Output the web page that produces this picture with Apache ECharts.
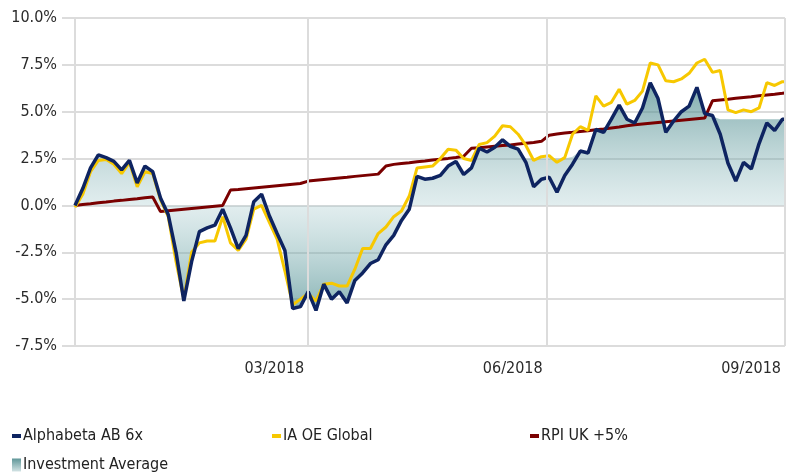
<!DOCTYPE html>
<html>
<head>
<meta charset="utf-8">
<script src="https://cdn.jsdelivr.net/npm/echarts@6/dist/echarts.min.js"></script>
<style>
  html, body { margin: 0; padding: 0; background: #fff; }
  #chart { width: 796px; height: 476px; }
</style>
</head>
<body>
<div id="chart"></div>
<script>
const FONT = '"DejaVu Sans Condensed", "Liberation Sans Narrow", sans-serif';

const dates = [
  '2017-12-01','2017-12-04','2017-12-07','2017-12-10','2017-12-13','2017-12-16','2017-12-19','2017-12-22','2017-12-25','2017-12-28','2017-12-31',
  '2018-01-03','2018-01-06','2018-01-09','2018-01-12','2018-01-15','2018-01-18','2018-01-21','2018-01-24','2018-01-27','2018-01-30',
  '2018-02-02','2018-02-05','2018-02-08','2018-02-11','2018-02-14','2018-02-17','2018-02-20','2018-02-23','2018-02-26',
  '2018-03-01','2018-03-04','2018-03-07','2018-03-10','2018-03-13','2018-03-16','2018-03-19','2018-03-22','2018-03-25','2018-03-28','2018-03-31',
  '2018-04-03','2018-04-06','2018-04-09','2018-04-12','2018-04-15','2018-04-18','2018-04-21','2018-04-24','2018-04-27','2018-04-30',
  '2018-05-03','2018-05-06','2018-05-09','2018-05-12','2018-05-15','2018-05-18','2018-05-21','2018-05-24','2018-05-27','2018-05-30',
  '2018-06-02','2018-06-05','2018-06-08','2018-06-11','2018-06-14','2018-06-17','2018-06-20','2018-06-23','2018-06-26','2018-06-29',
  '2018-07-02','2018-07-05','2018-07-08','2018-07-11','2018-07-14','2018-07-17','2018-07-20','2018-07-23','2018-07-26','2018-07-29',
  '2018-08-01','2018-08-04','2018-08-07','2018-08-10','2018-08-13','2018-08-16','2018-08-19','2018-08-22','2018-08-25','2018-08-28','2018-08-31',
  '2018-09-01'
];

// Alphabeta AB 6x (%)
const alphabeta = [
  0.0, 0.9, 2.0, 2.7, 2.55, 2.35, 1.9, 2.4, 1.2, 2.1,
  1.8, 0.4, -0.5, -2.5, -5.1, -3.0, -1.4, -1.2, -1.05, -0.2,
  -1.2, -2.3, -1.6, 0.2, 0.6, -0.55, -1.5, -2.4, -5.5, -5.4,
  -4.6, -5.6, -4.2, -5.0, -4.6, -5.2, -4.0, -3.6, -3.1, -2.9,
  -2.1, -1.6, -0.8, -0.2, 1.55, 1.4, 1.45, 1.6, 2.1, 2.35,
  1.65, 2.0, 3.05, 2.85, 3.1, 3.5, 3.15, 3.0, 2.3, 1.0,
  1.4, 1.5, 0.7, 1.6, 2.2, 2.9, 2.8, 4.05, 3.9, 4.6,
  5.35, 4.6, 4.4, 5.2, 6.55, 5.7, 3.9, 4.5, 5.0, 5.3,
  6.3, 4.9, 4.8, 3.8, 2.25, 1.3, 2.3, 1.95, 3.3, 4.4,
  4.0, 4.6, 4.6
];

// IA OE Global (%)
const iaGlobal = [
  -0.1, 0.6, 1.8, 2.4, 2.45, 2.2, 1.7, 2.3, 1.0, 1.8,
  1.7, 0.3, -0.6, -3.0, -5.0, -2.5, -2.0, -1.9, -1.9, -0.6,
  -2.0, -2.4, -1.8, -0.2, 0.0, -0.9, -1.8, -3.5, -5.3, -5.0,
  -4.7, -5.1, -4.2, -4.15, -4.3, -4.3, -3.4, -2.3, -2.3, -1.5,
  -1.15, -0.6, -0.3, 0.5, 2.0, 2.05, 2.1, 2.5, 3.0, 2.95,
  2.5, 2.4, 3.25, 3.35, 3.7, 4.25, 4.2, 3.8, 3.2, 2.4,
  2.6, 2.65, 2.3, 2.55, 3.8, 4.2, 4.0, 5.85, 5.3, 5.5,
  6.2, 5.4, 5.6, 6.1, 7.6, 7.5, 6.65, 6.6, 6.75, 7.05,
  7.6, 7.8, 7.1, 7.2, 5.1, 4.95, 5.1, 5.0, 5.2, 6.55,
  6.4, 6.6, 6.6
];

// RPI UK +5% (%)
const rpi = [
  0.0, 0.05, 0.09, 0.14, 0.18, 0.23, 0.27, 0.32, 0.36, 0.41,
  0.45, -0.32, -0.28, -0.24, -0.2, -0.16, -0.12, -0.08, -0.04, 0.0,
  0.82, 0.85, 0.89, 0.93, 0.97, 1.01, 1.05, 1.09, 1.13, 1.17,
  1.3, 1.34, 1.38, 1.42, 1.46, 1.5, 1.55, 1.59, 1.63, 1.67,
  2.1, 2.19, 2.24, 2.28, 2.33, 2.37, 2.42, 2.47, 2.51, 2.56,
  2.62, 3.05, 3.08, 3.12, 3.16, 3.2, 3.23, 3.28, 3.32, 3.36,
  3.42, 3.75, 3.81, 3.86, 3.9, 3.95, 3.99, 4.04, 4.08, 4.13,
  4.18, 4.25, 4.3, 4.34, 4.38, 4.42, 4.46, 4.5, 4.54, 4.58,
  4.62, 4.66, 5.58, 5.63, 5.67, 5.72, 5.76, 5.8, 5.85, 5.89,
  5.93, 5.98, 6.0
];

// Investment Average (%)
const invAverage = [
  0.0, 0.9, 2.0, 2.7, 2.55, 2.35, 1.9, 2.4, 1.2, 2.1,
  1.8, 0.4, -0.5, -2.5, -5.1, -3.0, -1.4, -1.2, -1.05, -0.2,
  -1.2, -2.3, -1.6, 0.2, 0.6, -0.55, -1.5, -2.4, -5.5, -5.4,
  -4.6, -5.6, -4.2, -5.0, -4.6, -5.2, -4.0, -3.6, -3.1, -2.9,
  -2.1, -1.6, -0.8, -0.2, 1.55, 1.4, 1.45, 1.6, 2.1, 2.35,
  1.65, 2.0, 3.05, 2.85, 3.1, 3.5, 3.15, 3.0, 2.5, 2.5,
  2.5, 2.5, 2.5, 2.5, 2.6, 2.9, 2.8, 4.05, 3.9, 4.6,
  5.35, 4.6, 4.4, 5.2, 6.55, 5.7, 3.9, 4.5, 5.0, 5.3,
  6.3, 4.9, 4.75, 4.6, 4.6, 4.6, 4.6, 4.6, 4.6, 4.6,
  4.6, 4.6, 4.6
];

const startDate = '2017-12-01';
const endDate = '2018-09-01';
const xTickDates = ['2018-03-01', '2018-06-01', '2018-09-01'];
const xTickLabels = ['03/2018', '06/2018', '09/2018'];

const DAY = 86400000;
const dayOf = d => Math.round((Date.parse(d) - Date.parse(startDate)) / DAY);
const tickDays = xTickDates.map(dayOf);
const pairs = arr => dates.map((d, i) => [dayOf(d), arr[i]]);

// area gradient: darkest away from zero, light at zero
const aMax = Math.max(0, ...invAverage), aMin = Math.min(0, ...invAverage);
const zeroOff = aMax / (aMax - aMin);

const gridColor = '#dcdcdc';
const chart = echarts.init(document.getElementById('chart'));

chart.setOption({
  animation: false,
  backgroundColor: '#fff',
  textStyle: { fontFamily: FONT },
  grid: { left: 75, right: 11, top: 18, bottom: 130 },
  xAxis: {
    type: 'value',
    min: 0,
    max: dayOf(endDate),
    axisLine: { show: false },
    splitLine: { show: false },
    axisTick: {
      show: true,
      customValues: tickDays,
      length: 28,
      lineStyle: { color: gridColor, width: 2 }
    },
    axisLabel: {
      customValues: tickDays,
      formatter: v => xTickLabels[tickDays.indexOf(v)] || '',
      align: 'right',
      margin: 15,
      padding: [0, 4, 0, 0],
      fontSize: 16,
      color: '#2a2a2a',
      fontFamily: FONT
    }
  },
  yAxis: {
    type: 'value',
    min: -7.5,
    max: 10,
    interval: 2.5,
    axisLine: { show: true, lineStyle: { color: gridColor, width: 2 } },
    axisTick: { show: true, length: 13, lineStyle: { color: gridColor, width: 2 } },
    splitLine: { show: true, lineStyle: { color: gridColor, width: 2 } },
    axisLabel: {
      formatter: v => v.toFixed(1) + '%',
      margin: 18,
      fontSize: 16,
      color: '#2a2a2a',
      fontFamily: FONT
    }
  },
  legend: [
    { left: 12, top: 428, data: ['Alphabeta AB 6x'] },
    { left: 272, top: 428, data: ['IA OE Global'] },
    { left: 530, top: 428, data: ['RPI UK +5%'] },
    { left: 12, top: 457, data: [{
        name: 'Investment Average',
        itemStyle: {
          color: new echarts.graphic.LinearGradient(0, 0, 0, 1, [
            { offset: 0, color: '#5f9698' },
            { offset: 1, color: '#d3e3e4' }
          ])
        }
      }],
      itemWidth: 9, itemHeight: 13
    }
  ].map(l => Object.assign({
    icon: 'rect',
    itemWidth: 9,
    itemHeight: 4,
    padding: 0,
    selectedMode: false,
    textStyle: { fontSize: 16, color: '#222', fontFamily: FONT, padding: [0, 0, 0, -3] }
  }, l)),
  series: [
    {
      name: 'Investment Average',
      type: 'line',
      data: pairs(invAverage),
      symbol: 'none',
      lineStyle: { width: 0 },
      itemStyle: { color: '#5f9698' },
      areaStyle: {
        origin: 0,
        color: new echarts.graphic.LinearGradient(0, 0, 0, 1, [
          { offset: 0, color: 'rgba(62,128,130,0.95)' },
          { offset: zeroOff, color: 'rgba(150,192,196,0.4)' },
          { offset: 1, color: 'rgba(78,142,144,0.95)' }
        ])
      },
      markLine: {
        silent: true,
        symbol: ['none', 'none'],
        label: { show: false },
        lineStyle: { color: gridColor, type: 'solid', width: 2 },
        data: tickDays.map(d => ({ xAxis: d }))
      }
    },
    {
      name: 'RPI UK +5%',
      type: 'line',
      data: pairs(rpi),
      symbol: 'none',
      itemStyle: { color: '#7a0000' },
      lineStyle: { width: 3, color: '#7a0000' }
    },
    {
      name: 'IA OE Global',
      type: 'line',
      data: pairs(iaGlobal),
      symbol: 'none',
      itemStyle: { color: '#f7c800' },
      lineStyle: { width: 3, color: '#f7c800' }
    },
    {
      name: 'Alphabeta AB 6x',
      type: 'line',
      data: pairs(alphabeta),
      symbol: 'none',
      itemStyle: { color: '#0e2461' },
      lineStyle: { width: 3.5, color: '#0e2461' }
    }
  ]
});
</script>
</body>
</html>
